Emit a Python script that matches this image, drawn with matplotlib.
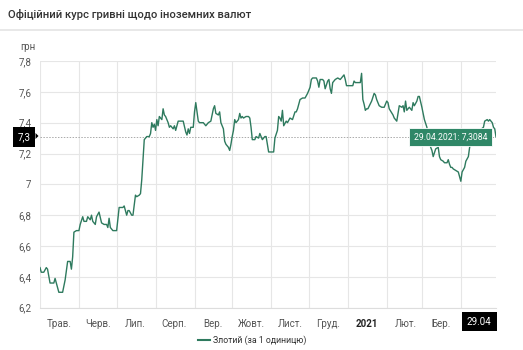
import matplotlib
matplotlib.use("Agg")
import matplotlib.pyplot as plt
from matplotlib.patches import Polygon
import pandas as pd

# PLN/UAH official rate, day offsets from 2020-05-01
START = "2020-05-01"
DAY = [0, 1, 3, 5, 6, 8, 11, 12, 13, 15, 18, 20, 22, 24, 25, 26, 27, 29, 31, 32,
       34, 35, 37, 38, 40, 41, 42, 44, 45, 47, 49, 51, 53, 54, 55, 56, 58, 61, 63, 66,
       67, 69, 70, 71, 73, 74, 76, 77, 79, 80, 81, 83, 85, 87, 88, 89, 90, 91, 92, 93,
       94, 95, 97, 98, 99, 100, 102, 103, 104, 106, 107, 108, 110, 113, 114, 116, 117, 118, 119, 120,
       122, 123, 124, 126, 127, 130, 132, 134, 136, 138, 139, 140, 142, 143, 144, 146, 147, 148, 150, 151,
       152, 153, 154, 155, 156, 158, 159, 160, 161, 162, 164, 166, 167, 168, 169, 171, 172, 174, 175, 177,
       179, 180, 181, 182, 184, 186, 187, 189, 190, 191, 192, 193, 194, 196, 197, 199, 201, 203, 204, 205,
       207, 209, 211, 213, 215, 216, 217, 220, 221, 222, 223, 225, 226, 227, 229, 230, 231, 232, 233, 235,
       237, 239, 240, 242, 243, 244, 247, 249, 250, 251, 253, 255, 256, 257, 258, 259, 260, 261, 264, 266,
       267, 268, 270, 272, 274, 276, 277, 278, 281, 282, 284, 285, 286, 288, 289, 290, 291, 292, 293, 294,
       296, 297, 298, 300, 301, 302, 304, 305, 306, 308, 309, 311, 312, 313, 315, 317, 318, 319, 321, 322,
       324, 325, 326, 327, 328, 329, 331, 333, 334, 335, 336, 338, 339, 341, 342, 344, 347, 350, 353, 354,
       356, 357, 358, 360, 361, 362, 363]
RATE = [6.46, 6.43, 6.43, 6.46, 6.45, 6.36, 6.36, 6.39, 6.36, 6.30, 6.30, 6.38, 6.50, 6.50, 6.45, 6.53, 6.69, 6.70, 6.70, 6.74,
        6.79, 6.76, 6.76, 6.79, 6.77, 6.80, 6.76, 6.74, 6.79, 6.82, 6.75, 6.74, 6.74, 6.72, 6.78, 6.72, 6.70, 6.70, 6.85, 6.85,
        6.86, 6.80, 6.83, 6.83, 6.80, 6.80, 6.93, 6.92, 6.93, 6.94, 7.03, 7.29, 7.31, 7.31, 7.33, 7.40, 7.37, 7.39, 7.35, 7.42,
        7.38, 7.44, 7.42, 7.49, 7.45, 7.44, 7.40, 7.37, 7.38, 7.36, 7.38, 7.35, 7.41, 7.41, 7.41, 7.34, 7.32, 7.36, 7.33, 7.37,
        7.37, 7.47, 7.53, 7.41, 7.40, 7.40, 7.38, 7.40, 7.41, 7.49, 7.51, 7.46, 7.45, 7.47, 7.40, 7.36, 7.28, 7.26, 7.24, 7.22,
        7.26, 7.31, 7.35, 7.42, 7.40, 7.42, 7.46, 7.43, 7.44, 7.43, 7.44, 7.44, 7.43, 7.37, 7.29, 7.29, 7.31, 7.30, 7.33, 7.29,
        7.31, 7.31, 7.26, 7.21, 7.21, 7.21, 7.30, 7.35, 7.44, 7.43, 7.41, 7.48, 7.38, 7.41, 7.40, 7.43, 7.42, 7.47, 7.47, 7.49,
        7.55, 7.56, 7.56, 7.59, 7.63, 7.68, 7.69, 7.69, 7.67, 7.63, 7.68, 7.68, 7.67, 7.62, 7.67, 7.68, 7.62, 7.59, 7.66, 7.68,
        7.69, 7.68, 7.69, 7.71, 7.68, 7.64, 7.64, 7.64, 7.67, 7.66, 7.66, 7.66, 7.72, 7.55, 7.52, 7.48, 7.49, 7.49, 7.54, 7.59,
        7.58, 7.55, 7.51, 7.50, 7.50, 7.54, 7.53, 7.49, 7.45, 7.43, 7.41, 7.46, 7.51, 7.50, 7.51, 7.47, 7.54, 7.48, 7.49, 7.50,
        7.48, 7.53, 7.51, 7.54, 7.57, 7.57, 7.50, 7.46, 7.42, 7.37, 7.30, 7.24, 7.22, 7.18, 7.23, 7.24, 7.18, 7.16, 7.15, 7.14,
        7.14, 7.16, 7.13, 7.11, 7.11, 7.10, 7.09, 7.08, 7.05, 7.02, 7.08, 7.11, 7.15, 7.18, 7.24, 7.28, 7.32, 7.35, 7.37, 7.41,
        7.42, 7.41, 7.42, 7.40, 7.37, 7.36, 7.3084]

MONTH_LABELS = ["Трав.", "Черв.", "Лип.", "Серп.", "Вер.", "Жовт.", "Лист.", "Груд.",
                "2021", "Лют.", "Бер."]
YTICKS = [6.2, 6.4, 6.6, 6.8, 7.0, 7.2, 7.4, 7.6, 7.8]
YTICK_LABELS = ["6,2", "6,4", "6,6", "6,8", "7", "7,2", "7,4", "7,6", "7,8"]
LAST_LABEL = "29.04"
LAST_Y_LABEL = "7,3"
TOOLTIP = "29.04.2021: 7,3084"
SERIES_NAME = "Злотий (за 1 одиницю)"
TITLE = "Офіційний курс гривні щодо іноземних валют"

GREEN = "#2e7a5e"
TIP_GREEN = "#2f8767"
GRID = "#e6e6e6"
TXT = "#555555"

plt.rcParams["font.family"] = ["Roboto", "DejaVu Sans"]

start = pd.Timestamp(START)
dates = start + pd.to_timedelta(DAY, unit="D")
last_date, last_val = dates[-1], RATE[-1]

fig = plt.figure(figsize=(5.23, 3.5), dpi=100)
ax = fig.add_axes([40 / 523, 1 - 307.7 / 350, 456 / 523, 246.7 / 350])

ax.plot(dates, RATE, color=GREEN, linewidth=1.0, zorder=3)

ax.set_xlim(start, last_date)
ax.set_ylim(6.2, 7.8)
ax.set_yticks(YTICKS)
ax.set_yticklabels(YTICK_LABELS)

# month boundaries as grid, labels mid-month
month_starts = pd.date_range(start, last_date, freq="MS")
mid_months = [m + pd.Timedelta(days=15) for m in month_starts[:len(MONTH_LABELS)]]
ax.set_xticks(month_starts)
ax.set_xticklabels([])
ax.set_xticks(mid_months, minor=True)
ax.set_xticklabels(MONTH_LABELS, minor=True)

ax.tick_params(axis="both", which="both", length=0, labelsize=7, labelcolor=TXT)
ax.tick_params(axis="x", which="minor", pad=8)
ax.tick_params(axis="y", pad=6)
for lbl in ax.get_xticklabels(minor=True):
    if lbl.get_text() == "2021":
        lbl.set_fontweight("bold")
        lbl.set_color("#222222")

ax.grid(True, which="major", color=GRID, linewidth=0.8, zorder=0)
for s in ax.spines.values():
    s.set_visible(False)
ax.spines["bottom"].set_visible(True)
ax.spines["bottom"].set_color("#dddddd")

# crosshair
ax.axhline(last_val, color="#aaaaaa", linestyle=(0, (1.5, 1.5)), linewidth=0.7, zorder=2)
ax.axvline(last_date, color="#aaaaaa", linestyle=(0, (1.5, 1.5)), linewidth=0.7, zorder=2)

# tooltip
ax.annotate(TOOLTIP, xy=(last_date, last_val), xytext=(-6, 0),
            textcoords="offset points", ha="right", va="center",
            fontsize=6.2, color="white", zorder=5,
            bbox=dict(boxstyle="square,pad=0.55", fc=TIP_GREEN, ec="white", lw=0.6))

# y crosshair label with small pointer
ax.annotate(LAST_Y_LABEL, xy=(0, last_val), xycoords=("axes fraction", "data"),
            xytext=(-11.5, 0), textcoords="offset points", ha="center", va="center",
            fontsize=7, color="white", zorder=5, annotation_clip=False,
            bbox=dict(boxstyle="square,pad=0.5", fc="black", ec="none"))
yfig = 1 - 136 / 350
fig.add_artist(Polygon([[35.5 / 523, yfig + 3 / 350], [38.5 / 523, yfig],
                        [35.5 / 523, yfig - 3 / 350]], closed=True,
                       transform=fig.transFigure, fc="black", ec="none"))

# x crosshair label
ax.annotate(LAST_LABEL, xy=(last_date, 0), xycoords=("data", "axes fraction"),
            xytext=(-12, -10), textcoords="offset points", ha="center", va="center",
            fontsize=7, color="white", zorder=5, annotation_clip=False,
            bbox=dict(boxstyle="square,pad=0.5", fc="black", ec="none"))

fig.text(20 / 523, 1 - 47 / 350, "грн", fontsize=7, color=TXT, va="center")

# header
fig.text(8 / 523, 1 - 14 / 350, TITLE, fontsize=8.1, color="#333333",
         va="center", fontweight="medium")
fig.add_artist(plt.Line2D([0, 1], [1 - 30 / 350, 1 - 30 / 350],
                          transform=fig.transFigure, color="#e4e4e4", linewidth=1.2))

# legend
fig.add_artist(plt.Line2D([198 / 523, 210 / 523], [1 - 340 / 350, 1 - 340 / 350],
                          transform=fig.transFigure, color=GREEN, linewidth=1.5))
fig.text(213 / 523, 1 - 340 / 350, SERIES_NAME, fontsize=6.3, color="#333333", va="center")

fig.savefig("out.png", dpi=100)
